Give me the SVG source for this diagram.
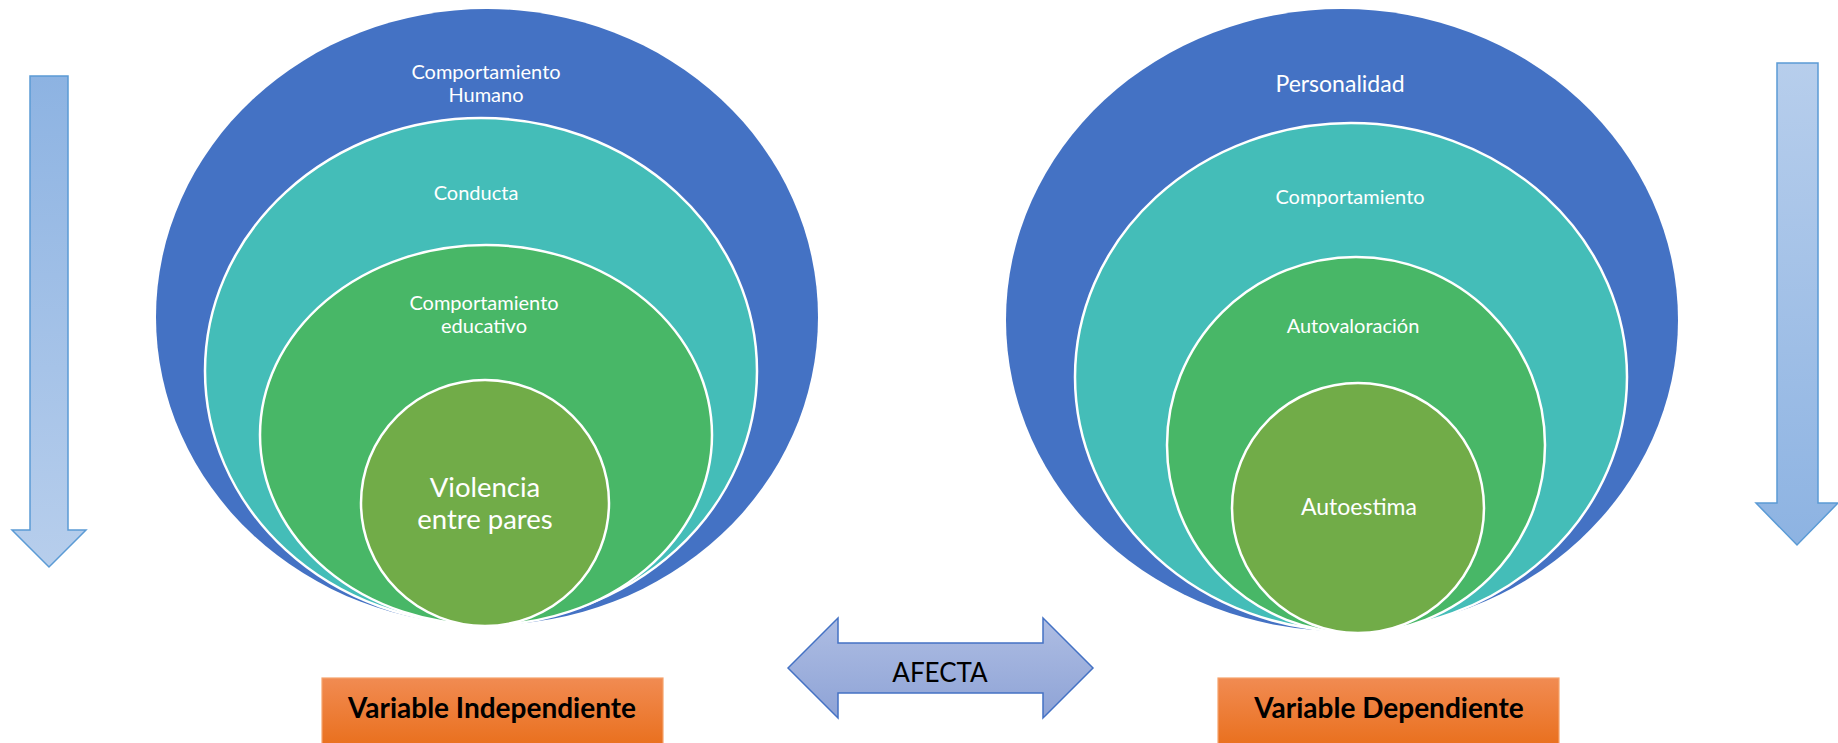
<svg xmlns="http://www.w3.org/2000/svg" width="1838" height="743" viewBox="0 0 1838 743">
<style>
.blue{fill:#4472C4;}
.teal{fill:#44BDB8;stroke:#FFFFFF;stroke-width:2.5;}
.green{fill:#48B767;stroke:#FFFFFF;stroke-width:2.5;}
.core{fill:#71AC48;stroke:#FFFFFF;stroke-width:2.5;}
.lbl{font-family:Lato,"Liberation Sans",sans-serif;fill:#FFFFFF;text-anchor:middle;}
.box{fill:url(#gOrange);stroke:#F5A36D;stroke-width:1.2;}
.boxt{font-family:Lato,"Liberation Sans",sans-serif;font-weight:bold;font-size:28px;fill:#000000;text-anchor:middle;}
.varr{stroke:#5B9BD5;stroke-width:1.5;}
</style>
<defs>
<linearGradient id="gDownL" x1="0" y1="0" x2="0" y2="1">
<stop offset="0" stop-color="#8DB3E2"/><stop offset="1" stop-color="#B7CEEC"/>
</linearGradient>
<linearGradient id="gDownR" x1="0" y1="0" x2="0" y2="1">
<stop offset="0" stop-color="#B7CEEC"/><stop offset="1" stop-color="#8DB3E2"/>
</linearGradient>
<linearGradient id="gAfecta" x1="0" y1="0" x2="0" y2="1">
<stop offset="0" stop-color="#AEBDE3"/><stop offset="1" stop-color="#8EA3D6"/>
</linearGradient>
<linearGradient id="gOrange" x1="0" y1="0" x2="0" y2="1">
<stop offset="0" stop-color="#F18B52"/><stop offset="1" stop-color="#E96F1C"/>
</linearGradient>
</defs>

<g id="arrow-left">
<polygon class="varr" fill="url(#gDownL)" points="30,76 68,76 68,530 86,530 49,567 12,530 30,530"/>
</g>
<g id="arrow-right">
<polygon class="varr" fill="url(#gDownR)" points="1777,63 1818,63 1818,503 1838,503 1797,545 1756,503 1777,503"/>
</g>

<g id="left-target">
<g id="comportamiento-humano">
<ellipse class="blue" cx="487" cy="317" rx="331" ry="308"/>
<text class="lbl" x="486" y="79" font-size="20">Comportamiento</text>
<text class="lbl" x="486" y="102" font-size="20">Humano</text>
</g>
<g id="conducta">
<ellipse class="teal" cx="481" cy="371" rx="276" ry="253"/>
<text class="lbl" x="476" y="200" font-size="20">Conducta</text>
</g>
<g id="comportamiento-educativo">
<ellipse class="green" cx="486" cy="435" rx="226" ry="190"/>
<text class="lbl" x="484" y="310" font-size="20">Comportamiento</text>
<text class="lbl" x="484" y="333" font-size="20">educativo</text>
</g>
<g id="violencia">
<ellipse class="core" cx="485" cy="503" rx="124" ry="123"/>
<text class="lbl" x="485" y="497" font-size="27.5">Violencia</text>
<text class="lbl" x="485" y="529" font-size="27.5">entre pares</text>
</g>
</g>

<g id="right-target">
<g id="personalidad">
<ellipse class="blue" cx="1342" cy="320" rx="336" ry="311"/>
<text class="lbl" x="1340" y="92" font-size="23">Personalidad</text>
</g>
<g id="comportamiento">
<ellipse class="teal" cx="1351" cy="377" rx="276" ry="254"/>
<text class="lbl" x="1350" y="204" font-size="20">Comportamiento</text>
</g>
<g id="autovaloracion">
<ellipse class="green" cx="1356" cy="445" rx="189" ry="188"/>
<text class="lbl" x="1353" y="333" font-size="20">Autovaloración</text>
</g>
<g id="autoestima">
<ellipse class="core" cx="1358" cy="508" rx="126" ry="125"/>
<text class="lbl" x="1359" y="515" font-size="23">Autoestima</text>
</g>
</g>

<g id="connectors">
<polygon fill="url(#gAfecta)" stroke="#4472C4" stroke-width="1.5" points="788,668 838,618 838,643 1043,643 1043,618 1093,668 1043,718 1043,693 838,693 838,718"/>
<text x="940" y="682" font-family="Lato,'Liberation Sans',sans-serif" font-size="26" fill="#000000" text-anchor="middle">AFECTA</text>
</g>

<g id="var-independiente">
<rect class="box" x="322" y="678" width="341" height="70"/>
<text class="boxt" x="492" y="718">Variable Independiente</text>
</g>
<g id="var-dependiente">
<rect class="box" x="1218" y="678" width="341" height="70"/>
<text class="boxt" x="1389" y="718">Variable Dependiente</text>
</g>
</svg>
